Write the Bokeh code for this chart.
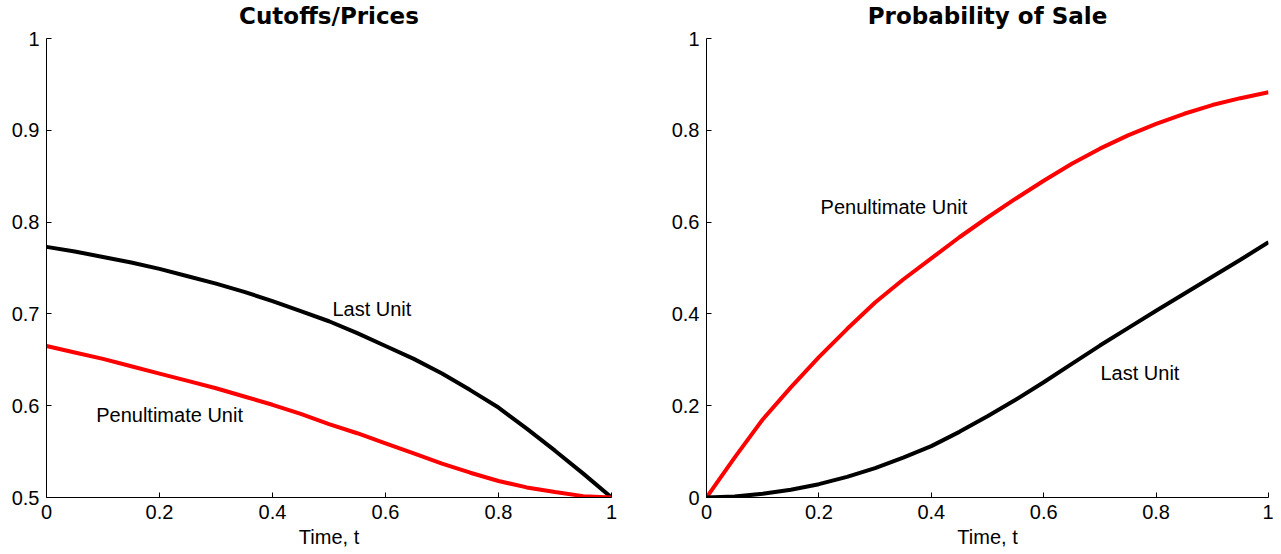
from bokeh.plotting import figure
from bokeh.layouts import row
from bokeh.models import FixedTicker, CustomJSTickFormatter, Range1d, Label
from bokeh.embed import file_html
from bokeh.resources import INLINE

# ---- data ----
t_left = [0.0, 0.05, 0.1, 0.15, 0.2, 0.25, 0.3, 0.35, 0.4, 0.45, 0.5,
          0.55, 0.6, 0.65, 0.7, 0.75, 0.8, 0.85, 0.9, 0.95, 1.0]
cutoff_last = [0.773, 0.768, 0.762, 0.756, 0.749, 0.741, 0.733, 0.724, 0.714, 0.703, 0.692,
               0.679, 0.665, 0.651, 0.635, 0.617, 0.598, 0.575, 0.551, 0.526, 0.500]
cutoff_penult = [0.665, 0.658, 0.651, 0.643, 0.635, 0.627, 0.619, 0.610, 0.601, 0.591, 0.580,
                 0.570, 0.559, 0.548, 0.537, 0.527, 0.518, 0.511, 0.506, 0.5015, 0.500]

t_right = [0.0, 0.05, 0.1, 0.15, 0.2, 0.25, 0.3, 0.35, 0.4, 0.45, 0.5,
           0.55, 0.6, 0.65, 0.7, 0.75, 0.8, 0.85, 0.9, 0.95, 1.0]
prob_penult = [0.0, 0.087, 0.170, 0.240, 0.306, 0.367, 0.425, 0.475, 0.521, 0.567, 0.610,
               0.651, 0.690, 0.727, 0.760, 0.789, 0.814, 0.836, 0.855, 0.870, 0.883]
prob_last = [0.0, 0.002, 0.008, 0.017, 0.029, 0.045, 0.064, 0.087, 0.112, 0.143, 0.177,
             0.213, 0.251, 0.291, 0.331, 0.369, 0.407, 0.444, 0.481, 0.518, 0.556]

x_ticks = [0.0, 0.2, 0.4, 0.6, 0.8, 1.0]
y_ticks_left = [0.5, 0.6, 0.7, 0.8, 0.9, 1.0]
y_ticks_right = [0.0, 0.2, 0.4, 0.6, 0.8, 1.0]

FONT = "Liberation Sans"
TITLE_FONT = "DejaVu Sans"
fmt = CustomJSTickFormatter(code="return String(Math.round(tick*10)/10);")

AX_H = 459      # pixel height of the axis span
EXTRA = 36      # room above the axis for the title
TITLE_GAP = 23  # title centre above the axis top


def make_fig(title, yr, yticks, left_border, right_border, fw):
    span = yr[1] - yr[0]
    ytop = yr[1] + span * EXTRA / AX_H
    p = figure(frame_width=fw, frame_height=AX_H + EXTRA,
               x_range=Range1d(0, 1), y_range=Range1d(yr[0], ytop),
               output_backend="svg", toolbar_location=None,
               min_border_left=left_border, min_border_right=right_border,
               min_border_top=2, min_border_bottom=49)
    p.outline_line_color = None
    p.grid.visible = False
    for ax in (p.xaxis[0], p.yaxis[0]):
        ax.major_tick_in = 5
        ax.major_tick_out = 0
        ax.minor_tick_in = 0
        ax.minor_tick_out = 0
        ax.axis_line_color = "black"
        ax.major_tick_line_color = "black"
        ax.major_label_text_font = FONT
        ax.major_label_text_font_size = "20px"
        ax.major_label_text_color = "black"
        ax.major_label_standoff = 7
        ax.formatter = fmt
    p.yaxis.bounds = (yr[0], yr[1])
    p.xaxis.ticker = FixedTicker(ticks=x_ticks)
    p.yaxis.ticker = FixedTicker(ticks=yticks)
    p.xaxis.axis_label = "Time, t"
    p.xaxis.axis_label_text_font = FONT
    p.xaxis.axis_label_text_font_size = "20px"
    p.xaxis.axis_label_text_font_style = "normal"
    p.xaxis.axis_label_text_color = "black"
    p.xaxis.axis_label_standoff = 4
    ylab = yr[1] + span * TITLE_GAP / AX_H
    p.add_layout(Label(x=0.5, y=ylab, text=title, text_font=TITLE_FONT,
                       text_font_size="23px", text_font_style="bold",
                       text_color="black", text_align="center",
                       text_baseline="middle"))
    return p


def lab(x, y, text):
    return Label(x=x, y=y, text=text, text_font=FONT, text_font_size="20px",
                 text_color="black", text_baseline="middle", text_align="left")


p1 = make_fig("Cutoffs/Prices", (0.5, 1.0), y_ticks_left, 46, 45, 565)
p1.line(t_left, cutoff_last, line_color="black", line_width=4)
p1.line(t_left, cutoff_penult, line_color="red", line_width=4)
p1.add_layout(lab(0.506, 0.705, "Last Unit"))
p1.add_layout(lab(0.088, 0.590, "Penultimate Unit"))

p2 = make_fig("Probability of Sale", (0.0, 1.0), y_ticks_right, 50, 5, 562)
p2.line(t_right, prob_penult, line_color="red", line_width=4)
p2.line(t_right, prob_last, line_color="black", line_width=4)
p2.add_layout(lab(0.203, 0.632, "Penultimate Unit"))
p2.add_layout(lab(0.701, 0.272, "Last Unit"))

layout = row(p1, p2, spacing=0)
open("out.html", "w").write(file_html(layout, INLINE))
